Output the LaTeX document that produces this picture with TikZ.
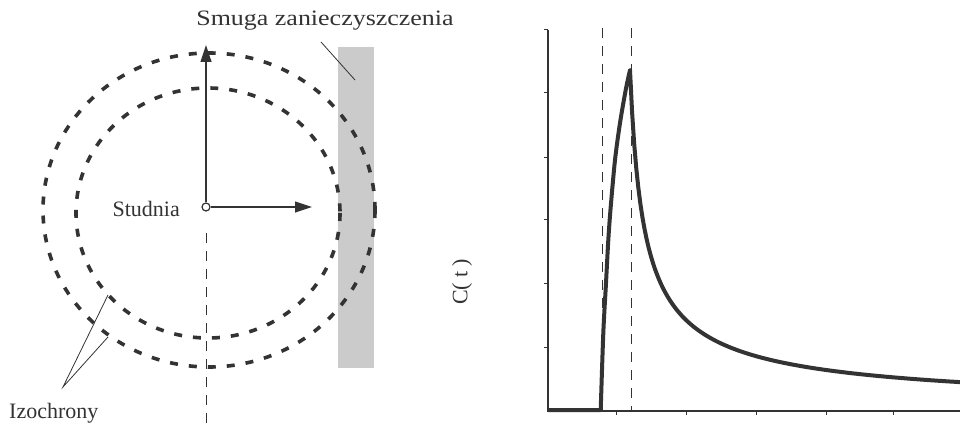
\documentclass[tikz,border=0pt]{standalone}
\usepackage{fontspec}
\setmainfont{Liberation Serif}
\usetikzlibrary{arrows.meta}
\definecolor{ink}{HTML}{333333}
\definecolor{band}{HTML}{CBCBCB}
\tikzset{
  iso/.style={draw=ink, line width=3.6pt, dash pattern=on 8pt off 11pt},
  guide/.style={draw=ink, line width=0.9pt, dash pattern=on 10pt off 8pt},
  axisln/.style={draw=ink, line width=1.4pt},
  arr/.style={draw=ink, line width=1.2pt, -{Triangle[length=17pt,width=11pt]}},
  lead/.style={draw=ink, line width=0.8pt},
  lbl/.style={font=\fontsize{22}{24}\selectfont, text=ink, inner sep=0pt},
  curve/.style={draw=ink, line width=4pt, line join=round}
}
\begin{document}
\begin{tikzpicture}[x=1pt,y=-1pt]
\useasboundingbox (0,0) rectangle (960,425);
% ---- left panel ----
\fill[band] (338,47) rectangle (374,368);
\path[iso] (209,210) ellipse [x radius=166, y radius=157];
\path[iso] (208,213) ellipse [x radius=132, y radius=125];
\node[draw=ink, line width=1.2pt, circle, minimum size=8pt, inner sep=0pt, fill=white] (well) at (206,207) {};
\coordinate (up) at (206,45);
\coordinate (right) at (312,207);
\coordinate (down) at (206,425);
\coordinate (dstart) at (206,233);
\draw[arr] (well.north) -- (up);
\draw[arr] (well.east) -- (right);
\path[guide] (dstart) -- (down);
\node[lbl, anchor=east] (studnia) at (180,209) {Studnia};
\node[lbl, xscale=1.18, transform shape] (smuga) at (325,21) {Smuga zanieczyszczenia};
\coordinate (smugaA) at (321,42);
\coordinate (smugaB) at (355,80);
\draw[lead] (smugaA) -- (smugaB);
\node[lbl, anchor=west] (izo) at (9,413) {Izochrony};
\coordinate (izoP) at (63,387);
\coordinate (izoA) at (108,295);
\coordinate (izoB) at (108,337);
\draw[lead] (izoA) -- (izoP) -- (izoB);
% ---- right panel ----
\node[lbl, rotate=90] (ct) at (462,282) {C(\hspace{5pt}t\hspace{5pt})};
\coordinate (o) at (548,411);
\coordinate (ytop) at (548,30);
\coordinate (xend) at (960,411);
\draw[axisln] (ytop) -- (o) -- (xend);
\foreach \yy in {30,93,157,219,283,347} \draw[ink, line width=1pt] (544,\yy) -- (548,\yy);
\foreach \xx in {616,686,756,826,893} \draw[ink, line width=1pt] (\xx,411) -- (\xx,415);
\coordinate (d1a) at (602,28); \coordinate (d1b) at (602,411);
\coordinate (d2a) at (631,28); \coordinate (d2b) at (631,411);
\path[guide] (d1a) -- (d1b);
\path[guide] (d2a) -- (d2b);
\draw[curve] (548,410) -- (600.7,410)
  plot[smooth, tension=0.5] coordinates {(600.7,410) (603.3,333) (606,283) (608.3,240) (610.7,207) (615,160) (620,123) (625.7,90) (630,70)}
  -- plot[domain=0:330, samples=160, variable=\t] ({630+\t}, {411-341*(1+0.1*\t)^(-0.7)});
\end{tikzpicture}
\end{document}
